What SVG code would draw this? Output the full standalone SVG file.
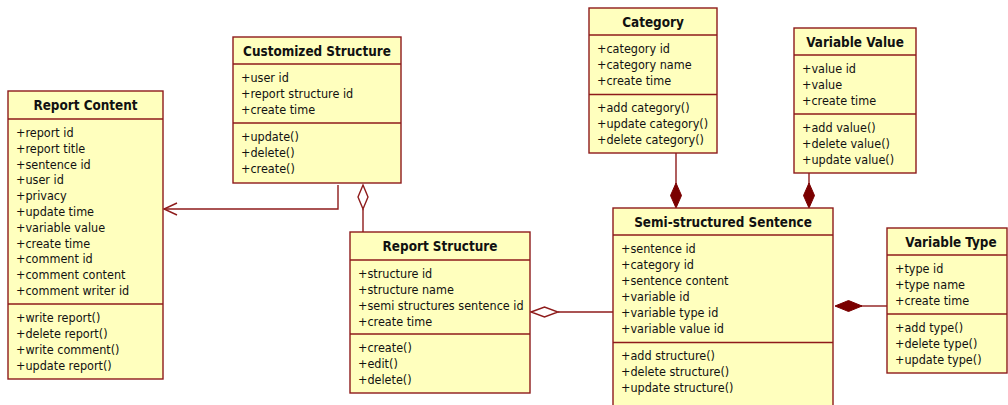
<svg xmlns="http://www.w3.org/2000/svg" width="1008" height="405" viewBox="0 0 1008 405">
<defs>
<style>
.box{fill:#FFFFBE;stroke:#8E1B1B;stroke-width:1.4}
.ln{stroke:#8E1B1B;stroke-width:1.4;fill:none}
.t{font-family:"DejaVu Sans Condensed","DejaVu Sans",sans-serif;font-stretch:condensed;font-size:12.5px;fill:#111}
.h{font-family:"DejaVu Sans Condensed","DejaVu Sans",sans-serif;font-stretch:condensed;font-size:13.4px;font-weight:bold;fill:#111;text-anchor:middle}
.od{fill:#FFFFFF;stroke:#8E1B1B;stroke-width:1.4}
.fd{fill:#7A0000;stroke:#7A0000;stroke-width:1}
</style>
</defs>
<rect width="1008" height="405" fill="#FFFFFF"/>

<g id="connectors">
  <!-- Customized Structure -> Report Content -->
  <polyline class="ln" points="338,185 338,209 164,209"/>
  <polyline class="ln" points="177,203 164,209 177,215"/>
  <!-- Customized Structure aggregation Report Structure -->
  <line class="ln" x1="363" y1="209" x2="363" y2="232"/>
  <polygon class="od" points="363,185 368,197 363,209 358,197"/>
  <!-- Report Structure aggregation Semi-structured Sentence -->
  <line class="ln" x1="558" y1="312" x2="613" y2="312"/>
  <polygon class="od" points="531,312 544.5,307 558,312 544.5,317"/>
  <!-- Category composition -->
  <line class="ln" x1="676" y1="153" x2="676" y2="184"/>
  <polygon class="fd" points="676,183 681.5,195.5 676,208 670.5,195.5"/>
  <!-- Variable Value composition -->
  <line class="ln" x1="809" y1="173" x2="809" y2="184"/>
  <polygon class="fd" points="809,183 814.5,195.5 809,208 803.5,195.5"/>
  <!-- Variable Type composition -->
  <line class="ln" x1="861" y1="306" x2="887" y2="306"/>
  <polygon class="fd" points="835,306 848.5,300.5 862,306 848.5,311.5"/>
</g>

<g id="report-content">
  <rect class="box" x="8" y="91" width="155" height="288"/>
  <line class="ln" x1="8" y1="119" x2="163" y2="119"/>
  <line class="ln" x1="8" y1="304" x2="163" y2="304"/>
  <text class="h" x="85.5" y="110">Report Content</text>
  <text class="t" x="16" y="137">+report id</text>
  <text class="t" x="16" y="152.8">+report title</text>
  <text class="t" x="16" y="168.6">+sentence id</text>
  <text class="t" x="16" y="184.4">+user id</text>
  <text class="t" x="16" y="200.2">+privacy</text>
  <text class="t" x="16" y="216">+update time</text>
  <text class="t" x="16" y="231.8">+variable value</text>
  <text class="t" x="16" y="247.6">+create time</text>
  <text class="t" x="16" y="263.4">+comment id</text>
  <text class="t" x="16" y="279.2">+comment content</text>
  <text class="t" x="16" y="295">+comment writer id</text>
  <text class="t" x="16" y="322">+write report()</text>
  <text class="t" x="16" y="338">+delete report()</text>
  <text class="t" x="16" y="354">+write comment()</text>
  <text class="t" x="16" y="370">+update report()</text>
</g>

<g id="customized-structure">
  <rect class="box" x="233" y="37" width="168" height="146"/>
  <line class="ln" x1="233" y1="64" x2="401" y2="64"/>
  <line class="ln" x1="233" y1="123" x2="401" y2="123"/>
  <text class="h" x="317" y="56">Customized Structure</text>
  <text class="t" x="241" y="82">+user id</text>
  <text class="t" x="241" y="98">+report structure id</text>
  <text class="t" x="241" y="114">+create time</text>
  <text class="t" x="241" y="141">+update()</text>
  <text class="t" x="241" y="157">+delete()</text>
  <text class="t" x="241" y="173">+create()</text>
</g>

<g id="report-structure">
  <rect class="box" x="350" y="232" width="180" height="161"/>
  <line class="ln" x1="350" y1="260" x2="530" y2="260"/>
  <line class="ln" x1="350" y1="334" x2="530" y2="334"/>
  <text class="h" x="440" y="251">Report Structure</text>
  <text class="t" x="358" y="278">+structure id</text>
  <text class="t" x="358" y="294">+structure name</text>
  <text class="t" x="358" y="310">+semi structures sentence id</text>
  <text class="t" x="358" y="326">+create time</text>
  <text class="t" x="358" y="352">+create()</text>
  <text class="t" x="358" y="368">+edit()</text>
  <text class="t" x="358" y="384">+delete()</text>
</g>

<g id="category">
  <rect class="box" x="589" y="8" width="128" height="145"/>
  <line class="ln" x1="589" y1="35" x2="717" y2="35"/>
  <line class="ln" x1="589" y1="94.5" x2="717" y2="94.5"/>
  <text class="h" x="653" y="27">Category</text>
  <text class="t" x="597" y="53">+category id</text>
  <text class="t" x="597" y="69">+category name</text>
  <text class="t" x="597" y="85">+create time</text>
  <text class="t" x="597" y="112">+add category()</text>
  <text class="t" x="597" y="128">+update category()</text>
  <text class="t" x="597" y="144">+delete category()</text>
</g>

<g id="variable-value">
  <rect class="box" x="794" y="28" width="122" height="145"/>
  <line class="ln" x1="794" y1="55" x2="916" y2="55"/>
  <line class="ln" x1="794" y1="114" x2="916" y2="114"/>
  <text class="h" x="855" y="47">Variable Value</text>
  <text class="t" x="802" y="73">+value id</text>
  <text class="t" x="802" y="89">+value</text>
  <text class="t" x="802" y="105">+create time</text>
  <text class="t" x="802" y="132">+add value()</text>
  <text class="t" x="802" y="148">+delete value()</text>
  <text class="t" x="802" y="164">+update value()</text>
</g>

<g id="semi-structured-sentence">
  <rect class="box" x="613" y="208" width="220" height="210"/>
  <line class="ln" x1="613" y1="235" x2="833" y2="235"/>
  <line class="ln" x1="613" y1="342.5" x2="833" y2="342.5"/>
  <text class="h" x="723" y="227">Semi-structured Sentence</text>
  <text class="t" x="621" y="253">+sentence id</text>
  <text class="t" x="621" y="269">+category id</text>
  <text class="t" x="621" y="285">+sentence content</text>
  <text class="t" x="621" y="301">+variable id</text>
  <text class="t" x="621" y="317">+variable type id</text>
  <text class="t" x="621" y="333">+variable value id</text>
  <text class="t" x="621" y="360">+add structure()</text>
  <text class="t" x="621" y="376">+delete structure()</text>
  <text class="t" x="621" y="392">+update structure()</text>
</g>

<g id="variable-type">
  <rect class="box" x="887" y="228" width="120" height="145"/>
  <line class="ln" x1="887" y1="255" x2="1007" y2="255"/>
  <line class="ln" x1="887" y1="314" x2="1007" y2="314"/>
  <text class="h" x="951" y="247">Variable Type</text>
  <text class="t" x="895" y="273">+type id</text>
  <text class="t" x="895" y="289">+type name</text>
  <text class="t" x="895" y="305">+create time</text>
  <text class="t" x="895" y="332">+add type()</text>
  <text class="t" x="895" y="348">+delete type()</text>
  <text class="t" x="895" y="364">+update type()</text>
</g>
</svg>
